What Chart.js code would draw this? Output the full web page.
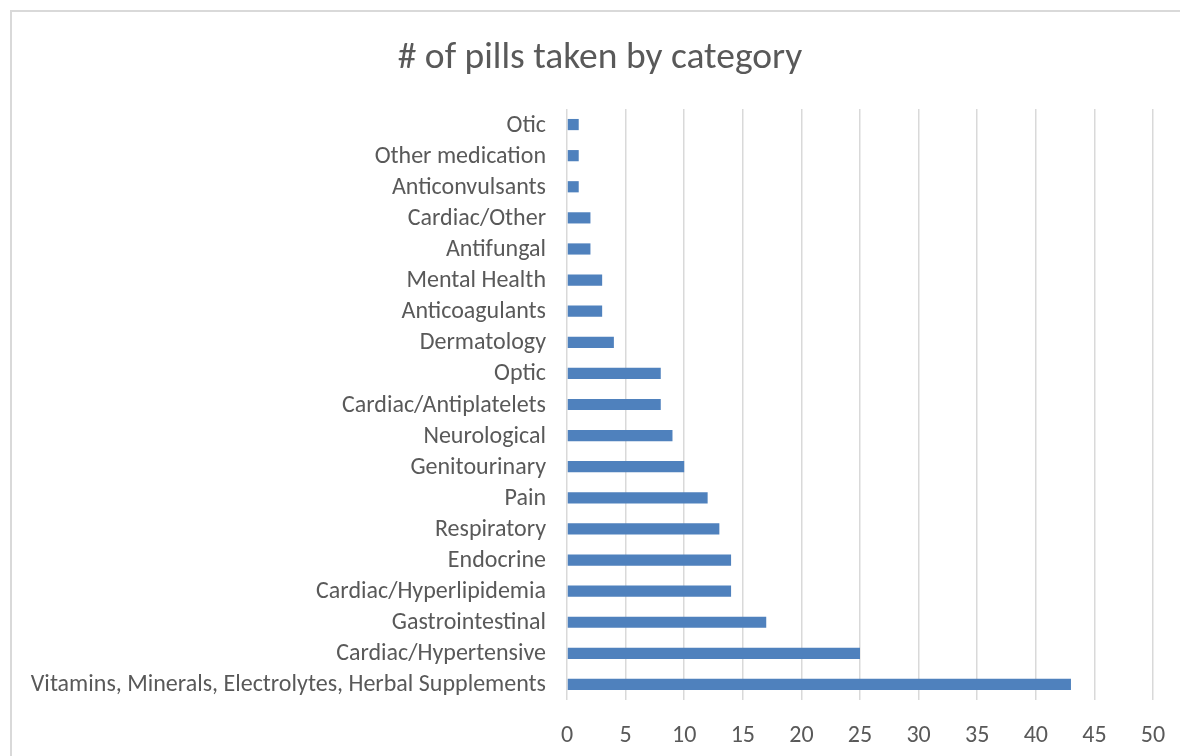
<!DOCTYPE html>
<html>
<head>
<meta charset="utf-8">
<script src="https://cdn.jsdelivr.net/npm/chart.js@4"></script>
<style>
  html, body { margin: 0; padding: 0; background: #fff; overflow: hidden; }
  #frame { position: absolute; left: 10px; top: 10px; width: 1200px; height: 800px; border: 2px solid #d9d9d9; }
  #wrap { position: absolute; left: 0; top: 0; width: 1180px; height: 756px; }
</style>
</head>
<body>
<div id="frame"></div>
<div id="wrap"><canvas id="pillChart" width="1180" height="756"></canvas></div>
<script>
// categories top to bottom, as in the picture
const categories = [
    "Otic", "Other medication", "Anticonvulsants", "Cardiac/Other", "Antifungal",
    "Mental Health", "Anticoagulants", "Dermatology", "Optic", "Cardiac/Antiplatelets",
    "Neurological", "Genitourinary", "Pain", "Respiratory", "Endocrine",
    "Cardiac/Hyperlipidemia", "Gastrointestinal", "Cardiac/Hypertensive",
    "Vitamins, Minerals, Electrolytes, Herbal Supplements"
];
const pillCounts = [1, 1, 1, 2, 2, 3, 3, 4, 8, 8, 9, 10, 12, 13, 14, 14, 17, 25, 43];
const xMin = 0, xMax = 50, xStep = 5;

const fontFamily = "Carlito, Calibri, 'Open Sans', sans-serif";
const textColor = "#595959";

const ctx = document.getElementById("pillChart").getContext("2d");
new Chart(ctx, {
    type: "bar",
    data: {
        labels: categories,
        datasets: [{
            label: "# of pills",
            data: pillCounts,
            backgroundColor: "#4f81bd",
            barPercentage: 0.36,
            categoryPercentage: 1.0
        }]
    },
    options: {
        indexAxis: "y",
        responsive: false,
        animation: false,
        // left padding keeps the title centred like the original
        layout: { padding: { top: 0, right: 0, bottom: 0, left: 20 } },
        plugins: {
            legend: { display: false },
            tooltip: { enabled: false },
            title: {
                display: true,
                text: "# of pills taken by category",
                color: textColor,
                font: { family: fontFamily, size: 37.5, weight: "normal", lineHeight: 1.2 },
                padding: { top: 36, bottom: 28 }
            }
        },
        scales: {
            x: {
                min: xMin,
                max: xMax,
                // invisible tick marks push the labels down, small padding keeps the right edge
                ticks: { stepSize: xStep, color: textColor, padding: 14, font: { family: fontFamily, size: 24 } },
                grid: { color: "#d9d9d9", lineWidth: 1.5, drawTicks: true, tickLength: 8, tickColor: "rgba(0,0,0,0)" },
                border: { display: false },
                afterFit: function (scale) { scale.height = 56; }
            },
            y: {
                ticks: { autoSkip: false, color: textColor, padding: 21, labelOffset: 1, font: { family: fontFamily, size: 24 } },
                grid: { display: false, drawTicks: false },
                border: { display: false },
                afterFit: function (scale) { scale.width = 547; }
            },
            // empty spacer on the right side of the plot
            yRight: {
                position: "right",
                type: "linear",
                ticks: { display: false },
                grid: { display: false, drawTicks: false },
                border: { display: false },
                afterFit: function (scale) { scale.width = 27; }
            }
        }
    }
});
</script>
</body>
</html>
